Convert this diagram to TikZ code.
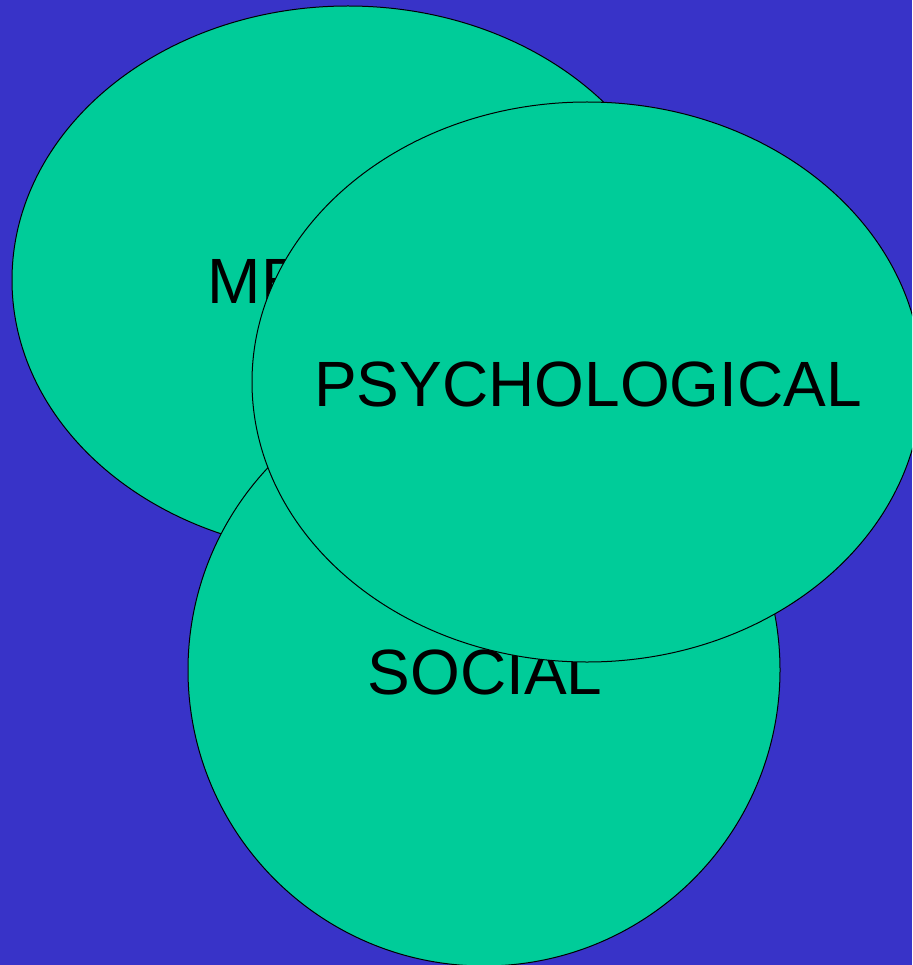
\documentclass[tikz,border=0pt]{standalone}
\usepackage{fontspec}
\setmainfont{Liberation Sans}
\usetikzlibrary{positioning, shapes.geometric}
\definecolor{backblue}{HTML}{3833C8}
\definecolor{bubblegreen}{HTML}{00CC99}

\begin{document}
\begin{tikzpicture}[x=1pt, y=1pt]
  \tikzset{bubble/.style={draw=black, line width=1pt, fill=bubblegreen},
           label/.style={inner sep=0pt, font=\fontsize{64}{64}\selectfont}}
  \useasboundingbox (0,0) rectangle (912,-965);
  \clip (0,0) rectangle (912,-965);
  \fill[backblue] (0,0) rectangle (912,-965);

  % medical
  \coordinate (Mc) at (348,-280);
  \draw[bubble] (Mc) ellipse [x radius=336, y radius=274];
  \node[label] (M) at (350,-281) {MEDICAL};
  % social
  \coordinate (Sc) at (484,-670);
  \draw[bubble] (Sc) circle [radius=296];
  \node[label] (S) at (485,-672) {SOCIAL};
  % psychological
  \coordinate (Pc) at (587,-382);
  \draw[bubble] (Pc) ellipse [x radius=335, y radius=280];
  \node[label] (P) at (588,-384) {PSYCHOLOGICAL};
\end{tikzpicture}
\end{document}
